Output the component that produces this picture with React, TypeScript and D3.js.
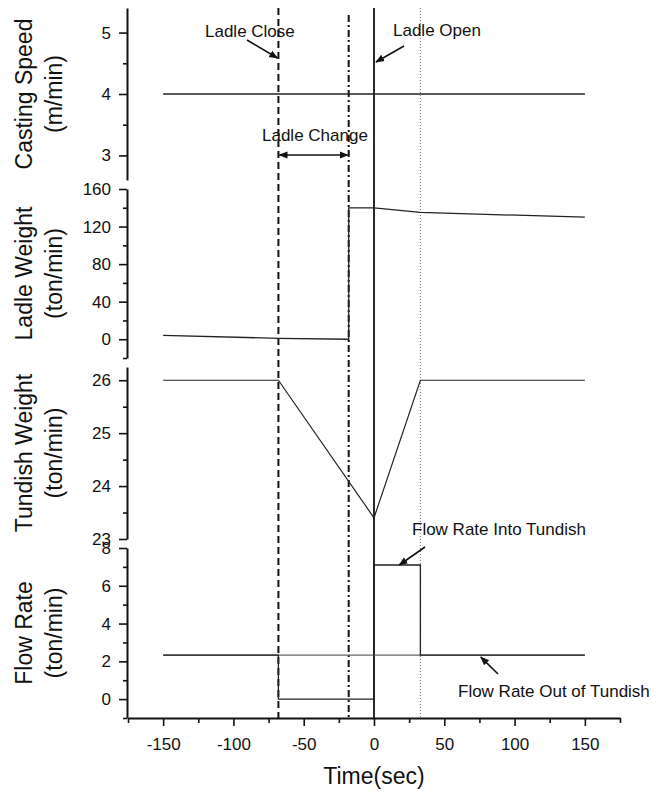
import React, { useEffect, useRef } from 'react';
import * as d3 from 'd3';

// Time axis
const xTicks = [-150, -100, -50, 0, 50, 100, 150];
const xMinorTicks = [-175, -125, -75, -25, 25, 75, 125, 175];

// Event times (sec)
const ladleCloseTime = -68;
const ladleChangeEnd = -18;
const ladleOpenTime = 0;
const refillTime = 33;

// Panel 1 - casting speed
const castTime = [-150, 150];
const castSpeed = [4, 4];
// Panel 2 - ladle weight
const ladleTime = [-150, -68, -18, -18, 0, 33, 150];
const ladleWeight = [4, 1, 0, 140, 140, 135, 130];
// Panel 3 - tundish weight
const tundishTime = [-150, -68, 0, 33, 150];
const tundishWeight = [26, 26, 23.4, 26, 26];
// Panel 4 - flow rates
const flowInTime = [-150, -68, -68, 0, 0, 33, 33, 150];
const flowIn = [2.33, 2.33, 0, 0, 7.1, 7.1, 2.33, 2.33];
const flowOutTime = [-150, 150];
const flowOut = [2.33, 2.33];

const panelTitles = ['Casting Speed', 'Ladle Weight', 'Tundish Weight', 'Flow Rate'];
const panelUnits = ['(m/min)', '(ton/min)', '(ton/min)', '(ton/min)'];
const panelDomains = [[2.6, 5.4], [-20, 160], [23, 26.25], [-1, 8]];
const panelTicks = [[3, 4, 5], [0, 40, 80, 120, 160], [23, 24, 25, 26], [0, 2, 4, 6, 8]];
const panelMinor = [[3.5, 4.5], [-20, 20, 60, 100, 140], [23.5, 24.5, 25.5], [-1, 1, 3, 5, 7]];
const panelRanges = [[180, 8], [358, 189], [539, 367], [718, 548]];

const FONT = 'Liberation Sans, Arial, Helvetica, sans-serif';

const App = () => {
  const ref = useRef<SVGSVGElement>(null);

  useEffect(() => {
    const svg = d3.select(ref.current);
    svg.selectAll('*').remove();

    const axisX = 127;
    const x = d3.scaleLinear().domain([-175, 175]).range([128, 620]);
    const fmt = (d: any) => String(d);

    const defs = svg.append('defs');
    defs.append('marker')
      .attr('id', 'arr')
      .attr('viewBox', '0 0 10 10')
      .attr('refX', 9).attr('refY', 5)
      .attr('markerWidth', 9).attr('markerHeight', 9)
      .attr('markerUnits', 'userSpaceOnUse')
      .attr('orient', 'auto-start-reverse')
      .append('path').attr('d', 'M0,1 L10,5 L0,9 Z').attr('fill', '#111');

    const line = d3.line<[number, number]>();

    const ys = panelDomains.map((dom, i) =>
      d3.scaleLinear().domain(dom).range(panelRanges[i]));

    // y axes
    ys.forEach((y, i) => {
      const g = svg.append('g').attr('transform', `translate(${axisX},0)`);
      g.call(d3.axisLeft(y).tickValues(panelTicks[i]).tickSize(8).tickPadding(8).tickSizeOuter(0)
        .tickFormat(fmt));
      g.append('g').call(d3.axisLeft(y).tickValues(panelMinor[i]).tickSize(4).tickSizeOuter(0).tickFormat(() => ''))
        .select('.domain').remove();
      g.selectAll('path.domain').attr('stroke', '#111').attr('stroke-width', 2);
      g.selectAll('line').attr('stroke', '#111').attr('stroke-width', 1.6);
      g.selectAll('text').attr('font-family', FONT).attr('font-size', 17).attr('fill', '#111');

      const [r0, r1] = panelRanges[i];
      const cy = (r0 + r1) / 2;
      svg.append('text').attr('transform', `translate(32,${cy}) rotate(-90)`)
        .attr('text-anchor', 'middle').attr('font-family', FONT).attr('font-size', 23).attr('fill', '#111')
        .text(panelTitles[i]);
      svg.append('text').attr('transform', `translate(62,${cy}) rotate(-90)`)
        .attr('text-anchor', 'middle').attr('font-family', FONT).attr('font-size', 23).attr('fill', '#111')
        .text(panelUnits[i]);
    });

    // x axis
    const xg = svg.append('g').attr('transform', 'translate(0,718)');
    xg.call(d3.axisBottom(x).tickValues(xTicks).tickSize(8).tickPadding(12).tickSizeOuter(0).tickFormat(fmt));
    xg.append('g').call(d3.axisBottom(x).tickValues(xMinorTicks).tickSize(5).tickSizeOuter(0).tickFormat(() => ''))
      .select('.domain').remove();
    xg.selectAll('path.domain').attr('stroke', '#111').attr('stroke-width', 2);
    xg.selectAll('line').attr('stroke', '#111').attr('stroke-width', 1.6);
    xg.selectAll('text').attr('font-family', FONT).attr('font-size', 17).attr('fill', '#111');
    svg.append('text').attr('x', x(0)).attr('y', 784).attr('text-anchor', 'middle')
      .attr('font-family', FONT).attr('font-size', 23).attr('fill', '#111').text('Time(sec)');

    // event lines
    svg.append('line').attr('x1', x(refillTime)).attr('x2', x(refillTime)).attr('y1', 8).attr('y2', 718)
      .attr('stroke', '#777').attr('stroke-width', 1).attr('stroke-dasharray', '1,2');
    svg.append('line').attr('x1', x(ladleCloseTime)).attr('x2', x(ladleCloseTime)).attr('y1', 8).attr('y2', 718)
      .attr('stroke', '#111').attr('stroke-width', 2).attr('stroke-dasharray', '7,4');
    svg.append('line').attr('x1', x(ladleChangeEnd)).attr('x2', x(ladleChangeEnd)).attr('y1', 15).attr('y2', 718)
      .attr('stroke', '#111').attr('stroke-width', 2).attr('stroke-dasharray', '7,3,2,3');
    svg.append('line').attr('x1', x(ladleOpenTime)).attr('x2', x(ladleOpenTime)).attr('y1', 8).attr('y2', 718)
      .attr('stroke', '#111').attr('stroke-width', 1.8);

    const drawSeries = (t: number[], v: number[], y: d3.ScaleLinear<number, number>, color: string, w: number) => {
      svg.append('path')
        .attr('d', line(t.map((tt, k) => [x(tt), y(v[k])] as [number, number])))
        .attr('fill', 'none').attr('stroke', color).attr('stroke-width', w);
    };
    drawSeries(castTime, castSpeed, ys[0], '#222', 1.3);
    drawSeries(ladleTime, ladleWeight, ys[1], '#222', 1.3);
    drawSeries(tundishTime, tundishWeight, ys[2], '#222', 1.2);
    drawSeries(flowOutTime, flowOut, ys[3], '#666', 1.3);
    drawSeries(flowInTime, flowIn, ys[3], '#222', 1.3);

    // annotations
    const txt = (s: string, tx: number, ty: number) => svg.append('text').attr('x', tx).attr('y', ty)
      .attr('font-family', FONT).attr('font-size', 17).attr('fill', '#111').text(s);
    const arrow = (x1: number, y1: number, x2: number, y2: number, both = false) => {
      const a = svg.append('line').attr('x1', x1).attr('y1', y1).attr('x2', x2).attr('y2', y2)
        .attr('stroke', '#111').attr('stroke-width', 1.6).attr('marker-end', 'url(#arr)');
      if (both) a.attr('marker-start', 'url(#arr)');
    };
    txt('Ladle Close', 205, 37);
    arrow(247, 40, x(ladleCloseTime) - 1, 58);
    txt('Ladle Open', 393, 36);
    arrow(404, 46, x(ladleOpenTime) + 2, 62);
    txt('Ladle Change', 262, 141);
    arrow(x(ladleCloseTime) + 1, 155, x(ladleChangeEnd) - 1, 155, true);
    txt('Flow Rate Into Tundish', 412, 535);
    arrow(425, 547, x(18), ys[3](7.1));
    txt('Flow Rate Out of Tundish', 458, 697);
    arrow(498, 674, x(76), ys[3](2.33) + 2);
  }, []);

  return (
    <div>
      <svg ref={ref} width={665} height={795}
        style={{ position: 'absolute', left: 0, top: 0, background: '#fff' }} />
    </div>
  );
};

export default App;
